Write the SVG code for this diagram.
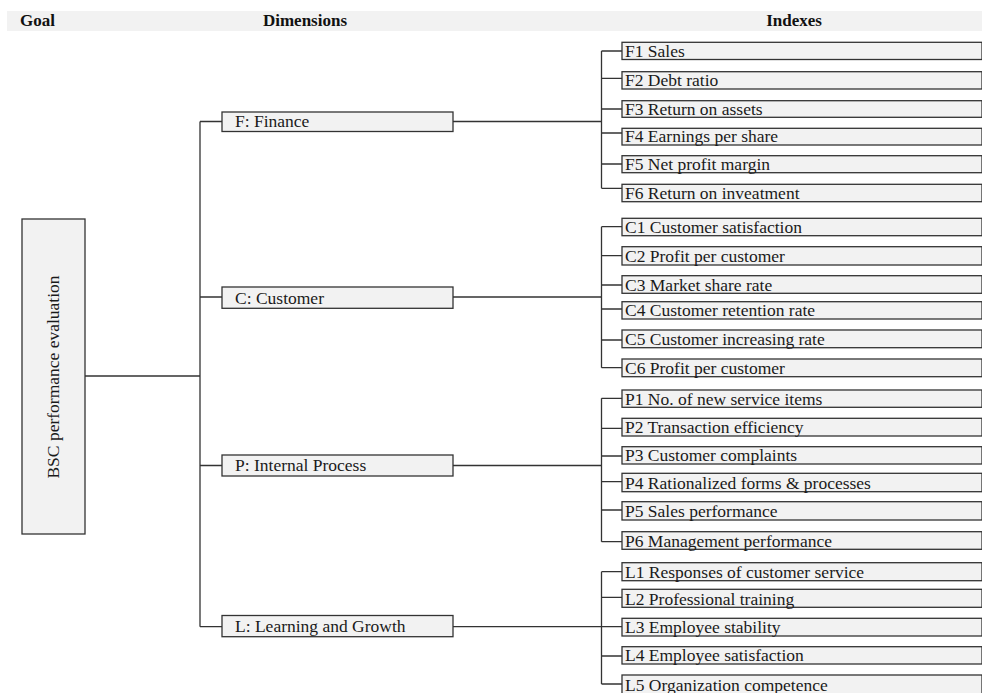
<svg xmlns="http://www.w3.org/2000/svg" width="982" height="693" viewBox="0 0 982 693">
<style>
.box{fill:#f2f2f2;stroke:#333;stroke-width:1.3}
.t{font-family:"Liberation Serif","Times New Roman",serif;font-size:17.5px;fill:#1a1a1a}
.h{font-family:"Liberation Serif","Times New Roman",serif;font-size:17px;font-weight:bold;fill:#111}
.c{fill:none;stroke:#333;stroke-width:1.3}
</style>
<rect x="0" y="0" width="982" height="693" fill="#fff"/>
<g id="header">
<rect x="7" y="11" width="975" height="20" fill="#f2f2f2"/>
<text class="h" x="20" y="26">Goal</text>
<text class="h" x="305" y="26" text-anchor="middle">Dimensions</text>
<text class="h" x="794" y="26" text-anchor="middle">Indexes</text>
</g>
<g id="connectors">
<path class="c" d="M85 376H200M200 121.5V626.7M200 121.5H222M200 297H222M200 465.5H222M200 626.7H222"/>
<path class="c" d="M453 121.5H601.5M453 297H601.5M453 465.5H601.5M453 626.7H601.5"/>
<path class="c" d="M601.5 51V188.3M601.5 51H622M601.5 78.3H622M601.5 109H622M601.5 133H622M601.5 164H622M601.5 188.3H622"/>
<path class="c" d="M601.5 226.7V367.7M601.5 226.7H622M601.5 255.7H622M601.5 285H622M601.5 309H622M601.5 340H622M601.5 367.7H622"/>
<path class="c" d="M601.5 398.3V541.7M601.5 398.3H622M601.5 428.3H622M601.5 456H622M601.5 481.7H622M601.5 510H622M601.5 541.7H622"/>
<path class="c" d="M601.5 571.7V684M601.5 571.7H622M601.5 597.3H622M601.5 626.7H622M601.5 656H622M601.5 684H622"/>
</g>
<g id="goal">
<rect class="box" x="22" y="219" width="63" height="315"/>
<text class="t" transform="translate(59,377) rotate(-90)" text-anchor="middle">BSC performance evaluation</text>
</g>
<g id="dim-F"><rect class="box" x="222" y="112" width="231" height="19.5"/><text class="t" x="235" y="127">F: Finance</text></g>
<g id="dim-C"><rect class="box" x="222" y="287" width="231" height="21.3"/><text class="t" x="235" y="303.5">C: Customer</text></g>
<g id="dim-P"><rect class="box" x="222" y="455" width="231" height="21"/><text class="t" x="235" y="471">P: Internal Process</text></g>
<g id="dim-L"><rect class="box" x="222" y="615.5" width="231" height="21.2"/><text class="t" x="235" y="632">L: Learning and Growth</text></g>
<g id="F1"><rect class="box" x="622" y="42.3" width="360" height="17.2"/><text class="t" x="625" y="56.8">F1 Sales</text></g>
<g id="F2"><rect class="box" x="622" y="71.7" width="360" height="17.3"/><text class="t" x="625" y="86.2">F2 Debt ratio</text></g>
<g id="F3"><rect class="box" x="622" y="100.7" width="360" height="16.6"/><text class="t" x="625" y="114.5">F3 Return on assets</text></g>
<g id="F4"><rect class="box" x="622" y="128.3" width="360" height="16.7"/><text class="t" x="625" y="142.2">F4 Earnings per share</text></g>
<g id="F5"><rect class="box" x="622" y="155.7" width="360" height="17"/><text class="t" x="625" y="169.9">F5 Net profit margin</text></g>
<g id="F6"><rect class="box" x="622" y="184.3" width="360" height="17.4"/><text class="t" x="625" y="198.9">F6 Return on inveatment</text></g>
<g id="C1"><rect class="box" x="622" y="218.3" width="360" height="17.4"/><text class="t" x="625" y="232.9">C1 Customer satisfaction</text></g>
<g id="C2"><rect class="box" x="622" y="246.7" width="360" height="18.3"/><text class="t" x="625" y="262.2">C2 Profit per customer</text></g>
<g id="C3"><rect class="box" x="622" y="275.7" width="360" height="17.6"/><text class="t" x="625" y="290.5">C3 Market share rate</text></g>
<g id="C4"><rect class="box" x="622" y="301.7" width="360" height="17.3"/><text class="t" x="625" y="316.2">C4 Customer retention rate</text></g>
<g id="C5"><rect class="box" x="622" y="330" width="360" height="17.7"/><text class="t" x="625" y="344.9">C5 Customer increasing rate</text></g>
<g id="C6"><rect class="box" x="622" y="359" width="360" height="17.7"/><text class="t" x="625" y="373.9">C6 Profit per customer</text></g>
<g id="P1"><rect class="box" x="622" y="390" width="360" height="17.3"/><text class="t" x="625" y="404.5">P1 No. of new service items</text></g>
<g id="P2"><rect class="box" x="622" y="418.3" width="360" height="17.7"/><text class="t" x="625" y="433.2">P2 Transaction efficiency</text></g>
<g id="P3"><rect class="box" x="622" y="446.7" width="360" height="17.3"/><text class="t" x="625" y="461.2">P3 Customer complaints</text></g>
<g id="P4"><rect class="box" x="622" y="473.3" width="360" height="18.4"/><text class="t" x="625" y="488.9">P4 Rationalized forms &amp; processes</text></g>
<g id="P5"><rect class="box" x="622" y="501.7" width="360" height="18.3"/><text class="t" x="625" y="517.2">P5 Sales performance</text></g>
<g id="P6"><rect class="box" x="622" y="531.7" width="360" height="17.6"/><text class="t" x="625" y="546.5">P6 Management performance</text></g>
<g id="L1"><rect class="box" x="622" y="562.7" width="360" height="18"/><text class="t" x="625" y="577.9">L1 Responses of customer service</text></g>
<g id="L2"><rect class="box" x="622" y="589.3" width="360" height="18"/><text class="t" x="625" y="604.5">L2 Professional training</text></g>
<g id="L3"><rect class="box" x="622" y="618.3" width="360" height="17.7"/><text class="t" x="625" y="633.2">L3 Employee stability</text></g>
<g id="L4"><rect class="box" x="622" y="646.7" width="360" height="17.3"/><text class="t" x="625" y="661.2">L4 Employee satisfaction</text></g>
<g id="L5"><rect class="box" x="622" y="675" width="360" height="30"/><text class="t" x="625" y="690.5">L5 Organization competence</text></g>
</svg>
